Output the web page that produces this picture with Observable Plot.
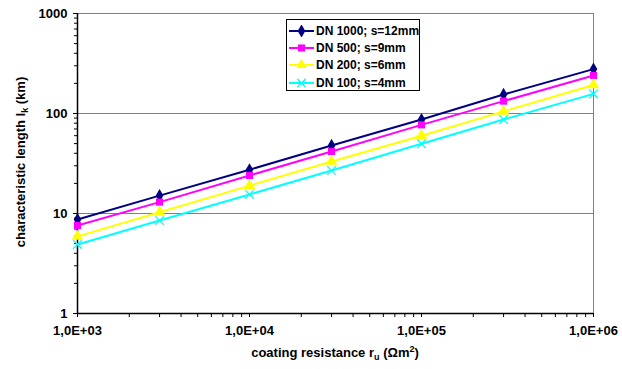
<!DOCTYPE html>
<html><head><meta charset="utf-8">
<script src="https://cdn.jsdelivr.net/npm/d3@7"></script>
<script src="https://cdn.jsdelivr.net/npm/@observablehq/plot@0.6"></script>
<style>
body{margin:0;background:#fff;}
#chart{position:relative;width:622px;height:369px;font-family:"Liberation Sans",Arial,sans-serif;}
#legend{position:absolute;left:286px;top:19px;width:134px;height:72px;border:1px solid #000;background:#fff;box-sizing:border-box;padding-top:2px;}
.row{display:flex;align-items:center;height:17.4px;font-weight:bold;font-size:12px;color:#000;white-space:nowrap;}
.row svg{flex:none;margin-left:2px;margin-right:2px;}
</style>
</head><body>
<div id="chart"></div>
<script>
// ---- data ----
const coatingResistance = [1e3, 3e3, 1e4, 3e4, 1e5, 3e5, 1e6];
const dn1000 = [8.7, 15.1, 27.4, 47.9, 87, 155, 278];
const dn500  = [7.6, 13.0, 24.0, 41.7, 77, 133, 240];
const dn200  = [5.9, 10.3, 19.0, 33.1, 60, 105, 193];
const dn100  = [4.9, 8.5, 15.5, 26.9, 49.8, 87, 157];
const seriesNames = ["DN 1000; s=12mm", "DN 500; s=9mm", "DN 200; s=6mm", "DN 100; s=4mm"];
const seriesValues = [dn1000, dn500, dn200, dn100];
const seriesColors = ["#000080", "#FF00FF", "#FFFF00", "#00FFFF"];
const seriesSymbols = ["diamond", "square", "triangle", "times"];
const yTicks = [1, 10, 100, 1000];
const yTickLabels = ["1", "10", "100", "1000"];
const xTicks = [1e3, 1e4, 1e5, 1e6];
const xTickLabels = ["1,0E+03", "1,0E+04", "1,0E+05", "1,0E+06"];

const data = seriesNames.flatMap((name, s) =>
  coatingResistance.map((x, i) => ({series: name, x, y: seriesValues[s][i]})));

const minor = (ticks) => ticks.slice(0, -1).flatMap(t => d3.range(2, 10).map(k => k * t));

const font = {fontSize: 13, fontWeight: "bold", fontFamily: "Liberation Sans, Arial, sans-serif"};

const seriesMarks = seriesNames.flatMap((name, s) => {
  const d = data.filter(r => r.series === name);
  const sym = seriesSymbols[s];
  const dotOpts = sym === "times"
    ? {x: "x", y: "y", symbol: sym, r: 4, stroke: seriesColors[s], strokeWidth: 1.3, fill: "none"}
    : {x: "x", y: "y", symbol: sym, r: sym === "triangle" ? 4.3 : 4, fill: seriesColors[s], stroke: "none"};
  return [
    Plot.line(d, {x: "x", y: "y", stroke: seriesColors[s], strokeWidth: 2}),
    Plot.dot(d, dotOpts)
  ];
});

const plot = Plot.plot({
  width: 622, height: 369,
  marginTop: 13, marginRight: 29, marginBottom: 56, marginLeft: 77,
  style: {fontFamily: "Liberation Sans, Arial, sans-serif", background: "#fff"},
  x: {type: "log", domain: [1e3, 1e6]},
  y: {type: "log", domain: [1, 1000]},
  marks: [
    Plot.gridY([10, 100, 1000], {stroke: "#808080", strokeOpacity: 1, strokeWidth: 1}),
    Plot.ruleX([1e6], {stroke: "#808080", strokeWidth: 1}),
    Plot.axisY(minor(yTicks), {tickSize: 3, tickFormat: () => "", stroke: "#000", strokeWidth: 1, label: null}),
    Plot.axisY(yTicks, {tickSize: 4, tickPadding: 6, tickFormat: d => yTickLabels[yTicks.indexOf(d)], stroke: "#000", fill: "#000", strokeWidth: 1, label: null, ...font}),
    Plot.axisX(minor(xTicks), {tickSize: 4, tickFormat: () => "", stroke: "#000", strokeWidth: 1, label: null}),
    Plot.axisX(xTicks, {tickSize: 4, tickPadding: 8, tickFormat: d => xTickLabels[xTicks.indexOf(d)], stroke: "#000", fill: "#000", strokeWidth: 1, label: null, ...font}),
    Plot.ruleX([1e3], {stroke: "#000", strokeWidth: 1.5}),
    Plot.ruleY([1], {stroke: "#000", strokeWidth: 1.5}),
    ...seriesMarks
  ]
});

const chart = document.getElementById("chart");
chart.appendChild(plot);

// axis titles
const svg = d3.select(plot);
const xt = svg.append("text").attr("x", 335).attr("y", 357).attr("text-anchor", "middle")
  .attr("font-size", 13).attr("font-weight", "bold").attr("fill", "#000");
xt.append("tspan").text("coating resistance r");
xt.append("tspan").attr("font-size", 9).attr("dy", 3).text("u");
xt.append("tspan").attr("dy", -3).text(" (\u03A9m");
xt.append("tspan").attr("font-size", 9).attr("dy", -5).text("2");
xt.append("tspan").attr("dy", 5).text(")");

const yt = svg.append("text").attr("transform", "translate(25,162) rotate(-90)").attr("text-anchor", "middle")
  .attr("font-size", 13).attr("font-weight", "bold").attr("fill", "#000");
yt.append("tspan").text("characteristic length l");
yt.append("tspan").attr("font-size", 9).attr("dy", 3).text("k");
yt.append("tspan").attr("dy", -3).text(" (km)");

// legend
const legend = d3.select(chart).append("div").attr("id", "legend");
seriesNames.forEach((name, s) => {
  const row = legend.append("div").attr("class", "row");
  const ls = row.append("svg").attr("width", 25).attr("height", 12);
  ls.append("line").attr("x1", 0).attr("x2", 25).attr("y1", 6).attr("y2", 6)
    .attr("stroke", seriesColors[s]).attr("stroke-width", 2);
  const symMap = {diamond: d3.symbolDiamond, square: d3.symbolSquare, triangle: d3.symbolTriangle, times: d3.symbolTimes};
  const p = ls.append("path").attr("transform", "translate(12.5,6)")
    .attr("d", d3.symbol(symMap[seriesSymbols[s]], Math.PI * 16)());
  if (seriesSymbols[s] === "times") p.attr("fill", "none").attr("stroke", seriesColors[s]).attr("stroke-width", 1.3);
  else p.attr("fill", seriesColors[s]);
  row.append("span").text(name);
});
</script>
</body></html>
